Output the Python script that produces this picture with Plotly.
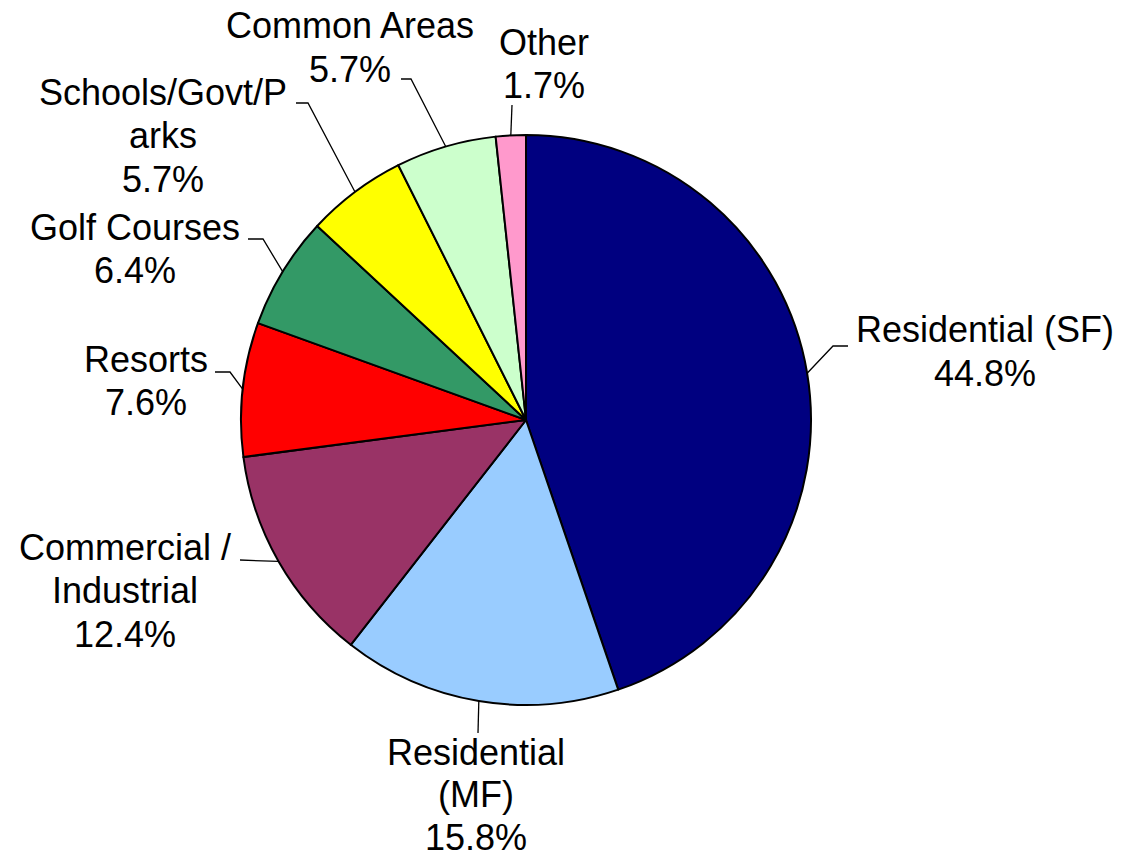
import plotly.graph_objects as go
import math

# ---- data ----
categories = ["Residential (SF)", "Residential (MF)", "Commercial / Industrial",
              "Resorts", "Golf Courses", "Schools/Govt/Parks", "Common Areas", "Other"]
shares = [44.8, 15.8, 12.4, 7.6, 6.4, 5.7, 5.7, 1.7]
# how each category name is broken over lines in its label
label_lines = [["Residential (SF)"], ["Residential", "(MF)"], ["Commercial /", "Industrial"],
               ["Resorts"], ["Golf Courses"], ["Schools/Govt/P", "arks"],
               ["Common Areas"], ["Other"]]

# ---- styling / layout ----
colors = ["#000080", "#99CCFF", "#993366", "#FF0000", "#339966", "#FFFF00", "#CCFFCC", "#FF99CC"]
W, H = 1126, 861
CX, CY, R = 526, 420, 285          # pie centre and radius (px)
FONT = "Arial, Liberation Sans, sans-serif"
FS = 36
# label block centre x, first-line centre y and line pitch (px)
label_anchor = [(985, 330, 43.5), (476, 752, 42.5), (125, 547, 43.5), (146, 359, 43.5),
                (135, 227, 43.5), (163, 92, 43.5), (350, 26, 43.5), (544, 42, 43.5)]
# leader line: end point next to the text, and the elbow before it (px)
leader_end = [(848, 346), (478, 733), (240, 560), (215, 372),
              (248, 239), (296, 103), (401, 79), (512, 105)]
leader_elbow = [(833, 346), (478, 733), (240, 560), (230, 372),
                (263, 239), (308, 103), (411, 79), (512, 105)]


def px(x):
    return x / W


def py(y):
    return 1 - y / H


fig = go.Figure(go.Pie(
    labels=categories, values=shares, sort=False, direction="clockwise", rotation=0,
    marker=dict(colors=colors, line=dict(color="black", width=2)),
    textinfo="none", hoverinfo="label+percent", showlegend=False,
    domain=dict(x=[px(CX - R), px(CX + R)], y=[py(CY + R), py(CY - R)]),
))

total = sum(shares)
annotations = []
shapes = []
cum = 0.0
for i, v in enumerate(shares):
    mid = (cum + v / 2) / total * 2 * math.pi
    cum += v
    ex, ey = CX + R * math.sin(mid), CY - R * math.cos(mid)
    bx, by = leader_elbow[i]
    tx, ty = leader_end[i]
    path = f"M {px(ex)} {py(ey)} L {px(bx)} {py(by)} L {px(tx)} {py(ty)}"
    shapes.append(dict(type="path", xref="paper", yref="paper", path=path,
                       line=dict(color="black", width=1.3)))
    lines = label_lines[i] + [f"{v:.1f}%"]
    ax, ay, pitch = label_anchor[i]
    for k, t in enumerate(lines):
        annotations.append(dict(
            x=px(ax), y=py(ay + k * pitch), xref="paper", yref="paper",
            text=t, showarrow=False, xanchor="center", yanchor="middle",
            font=dict(family=FONT, size=FS, color="black")))

fig.update_layout(
    width=W, height=H, margin=dict(l=0, r=0, t=0, b=0),
    paper_bgcolor="white", plot_bgcolor="white",
    annotations=annotations, shapes=shapes,
)

fig.write_html("out.html")
